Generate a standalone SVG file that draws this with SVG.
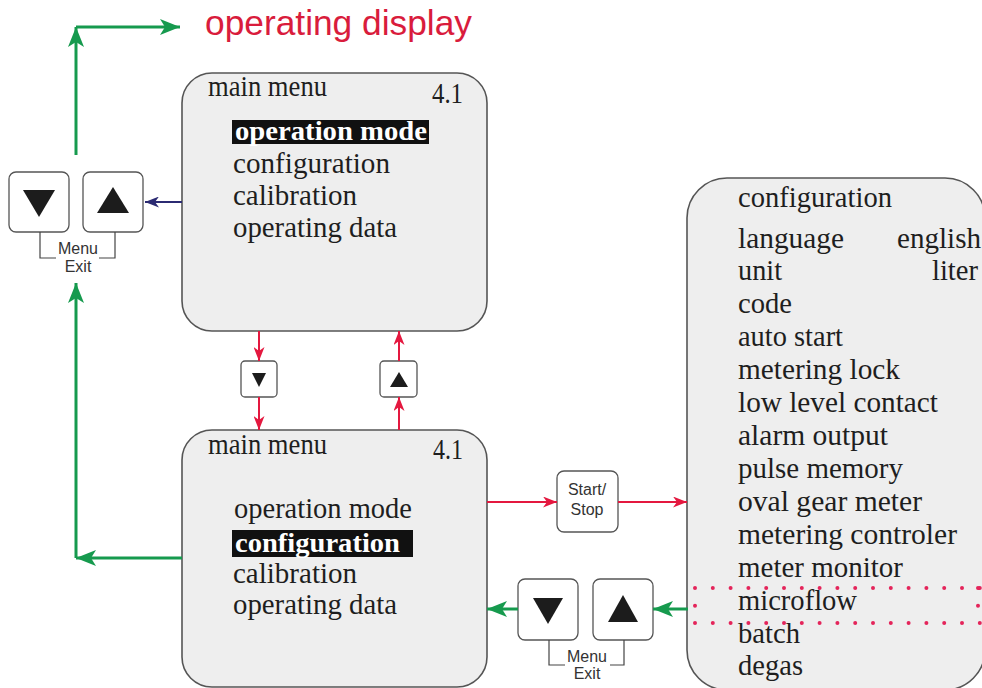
<svg xmlns="http://www.w3.org/2000/svg" width="982" height="688" viewBox="0 0 982 688">
<style>
.box{fill:#eeeeee;stroke:#555;stroke-width:1.6}
.btn{fill:#fff;stroke:#555;stroke-width:1.3}
.tri{fill:#1c1c1c}
.t{font-family:'Liberation Serif','Times New Roman',serif;font-size:29px;fill:#1e1e1e}
.tb{font-family:'Liberation Serif','Times New Roman',serif;font-size:27px;font-weight:bold;fill:#fff}
.s{font-family:'Liberation Sans',Arial,sans-serif;font-size:16px;fill:#333}
.brk{fill:none;stroke:#444;stroke-width:1.2}
.g{fill:none;stroke:#169a4e;stroke-width:3}
.r{fill:none;stroke:#e4183f;stroke-width:2}
.n{fill:none;stroke:#2b2a72;stroke-width:2}
</style>
<defs>
<marker id="ag" viewBox="0 0 20 16" markerWidth="20" markerHeight="16" refX="20" refY="8" orient="auto" markerUnits="userSpaceOnUse"><path d="M0,0 L20,8 L0,16 L5,8 z" fill="#169a4e"/></marker>
<marker id="ar" viewBox="0 0 14 11" markerWidth="14" markerHeight="11" refX="14" refY="5.5" orient="auto" markerUnits="userSpaceOnUse"><path d="M0,0 L14,5.5 L0,11 L4,5.5 z" fill="#e4183f"/></marker>
<marker id="an" viewBox="0 0 14 11" markerWidth="14" markerHeight="11" refX="14" refY="5.5" orient="auto" markerUnits="userSpaceOnUse"><path d="M0,0 L14,5.5 L0,11 L4,5.5 z" fill="#2b2a72"/></marker>
</defs>

<text x="205" y="35" font-family="'Liberation Sans',Arial,sans-serif" font-size="35" fill="#d91c3c" textLength="267" lengthAdjust="spacingAndGlyphs">operating display</text>

<g id="menu-top">
<rect class="box" x="182" y="73" width="305" height="258" rx="30"/>
<text class="t" x="208" y="96" font-size="27" textLength="119" lengthAdjust="spacingAndGlyphs">main menu</text>
<text class="t" x="432" y="103" font-size="27" textLength="31" lengthAdjust="spacingAndGlyphs">4.1</text>
<rect x="232" y="120" width="197" height="24" fill="#111"/>
<text class="tb" x="235" y="140" textLength="192" lengthAdjust="spacingAndGlyphs">operation mode</text>
<text class="t" x="233" y="173" textLength="157" lengthAdjust="spacingAndGlyphs">configuration</text>
<text class="t" x="233" y="205" textLength="124" lengthAdjust="spacingAndGlyphs">calibration</text>
<text class="t" x="233" y="237" textLength="164" lengthAdjust="spacingAndGlyphs">operating data</text>
</g>

<g id="menu-bottom">
<rect class="box" x="182" y="430" width="305" height="257" rx="30"/>
<text class="t" x="208" y="454" font-size="27" textLength="119" lengthAdjust="spacingAndGlyphs">main menu</text>
<text class="t" x="433" y="459" font-size="27" textLength="30" lengthAdjust="spacingAndGlyphs">4.1</text>
<text class="t" x="234" y="518" textLength="178" lengthAdjust="spacingAndGlyphs">operation mode</text>
<rect x="232" y="530" width="181" height="27" fill="#111"/>
<text class="tb" x="235" y="552" textLength="165" lengthAdjust="spacingAndGlyphs">configuration</text>
<text class="t" x="233" y="583" textLength="124" lengthAdjust="spacingAndGlyphs">calibration</text>
<text class="t" x="233" y="614" textLength="164" lengthAdjust="spacingAndGlyphs">operating data</text>
</g>

<g id="config-list">
<rect class="box" x="687" y="178" width="298" height="512" rx="40"/>
<text class="t" x="738" y="207" textLength="154" lengthAdjust="spacingAndGlyphs">configuration</text>
<text class="t" x="738" y="248" textLength="106" lengthAdjust="spacingAndGlyphs">language</text>
<text class="t" x="897" y="248" textLength="84" lengthAdjust="spacingAndGlyphs">english</text>
<text class="t" x="738" y="280" textLength="44" lengthAdjust="spacingAndGlyphs">unit</text>
<text class="t" x="932" y="280" textLength="46" lengthAdjust="spacingAndGlyphs">liter</text>
<text class="t" x="738" y="313" textLength="54" lengthAdjust="spacingAndGlyphs">code</text>
<text class="t" x="738" y="346" textLength="105" lengthAdjust="spacingAndGlyphs">auto start</text>
<text class="t" x="738" y="379" textLength="162" lengthAdjust="spacingAndGlyphs">metering lock</text>
<text class="t" x="738" y="412" textLength="200" lengthAdjust="spacingAndGlyphs">low level contact</text>
<text class="t" x="738" y="445" textLength="150" lengthAdjust="spacingAndGlyphs">alarm output</text>
<text class="t" x="738" y="478" textLength="165" lengthAdjust="spacingAndGlyphs">pulse memory</text>
<text class="t" x="738" y="511" textLength="184" lengthAdjust="spacingAndGlyphs">oval gear meter</text>
<text class="t" x="738" y="544" textLength="219" lengthAdjust="spacingAndGlyphs">metering controler</text>
<text class="t" x="738" y="577" textLength="165" lengthAdjust="spacingAndGlyphs">meter monitor</text>
<text class="t" x="738" y="610" textLength="119" lengthAdjust="spacingAndGlyphs">microflow</text>
<text class="t" x="738" y="643" textLength="62" lengthAdjust="spacingAndGlyphs">batch</text>
<text class="t" x="738" y="675" textLength="65" lengthAdjust="spacingAndGlyphs">degas</text>
<path d="M695,588 H980 M695,623 H980 M695,588 V623 M978,588 V623" fill="none" stroke="#e4245a" stroke-width="4" stroke-linecap="round" stroke-dasharray="0 17.8"/>
</g>

<g id="keys-left">
<rect class="btn" x="9" y="172" width="60" height="60" rx="7"/>
<polygon class="tri" points="23,190 55,190 39,217"/>
<rect class="btn" x="83" y="172" width="60" height="60" rx="7"/>
<polygon class="tri" points="113,187 129,213 97,213"/>
<path class="brk" d="M40,232 V258 H56 M99,258 H115 V232"/>
<text class="s" x="78" y="254" text-anchor="middle">Menu</text>
<text class="s" x="78" y="272" text-anchor="middle">Exit</text>
</g>

<g id="key-down-small">
<rect class="btn" x="241" y="361" width="36" height="36" rx="4"/>
<polygon class="tri" points="252,373 266,373 259,387"/>
</g>
<g id="key-up-small">
<rect class="btn" x="380" y="361" width="37" height="36" rx="4"/>
<polygon class="tri" points="399,372 408,387 390,387"/>
</g>

<g id="key-startstop">
<rect class="btn" x="557" y="471" width="61" height="61" rx="7"/>
<text class="s" x="587" y="495" text-anchor="middle" font-size="17">Start/</text>
<text class="s" x="587" y="515" text-anchor="middle" font-size="17">Stop</text>
</g>

<g id="keys-bottom">
<rect class="btn" x="518" y="579" width="60" height="61" rx="7"/>
<polygon class="tri" points="533,598 563,598 548,624"/>
<rect class="btn" x="593" y="579" width="60" height="61" rx="7"/>
<polygon class="tri" points="623,595 638,622 608,622"/>
<path class="brk" d="M549,640 V665 H565 M610,665 H624 V640"/>
<text class="s" x="587" y="662" text-anchor="middle">Menu</text>
<text class="s" x="587" y="679" text-anchor="middle">Exit</text>
</g>

<g id="connectors">
<path class="g" d="M76,155 V27" marker-end="url(#ag)"/>
<path class="g" d="M76,27 H180" marker-end="url(#ag)"/>
<path class="g" d="M182,558 H76" marker-end="url(#ag)"/>
<path class="g" d="M76,558 V283" marker-end="url(#ag)"/>
<path class="n" d="M182,202 H145" marker-end="url(#an)"/>
<path class="r" d="M259,331 V361" marker-end="url(#ar)"/>
<path class="r" d="M259,397 V430" marker-end="url(#ar)"/>
<path class="r" d="M399,430 V397" marker-end="url(#ar)"/>
<path class="r" d="M399,361 V331" marker-end="url(#ar)"/>
<path class="r" d="M487,502 H557" marker-end="url(#ar)"/>
<path class="r" d="M618,502 H687" marker-end="url(#ar)"/>
<path class="g" d="M688,609 H653" marker-end="url(#ag)"/>
<path class="g" d="M518,609 H487" marker-end="url(#ag)"/>
</g>
</svg>
